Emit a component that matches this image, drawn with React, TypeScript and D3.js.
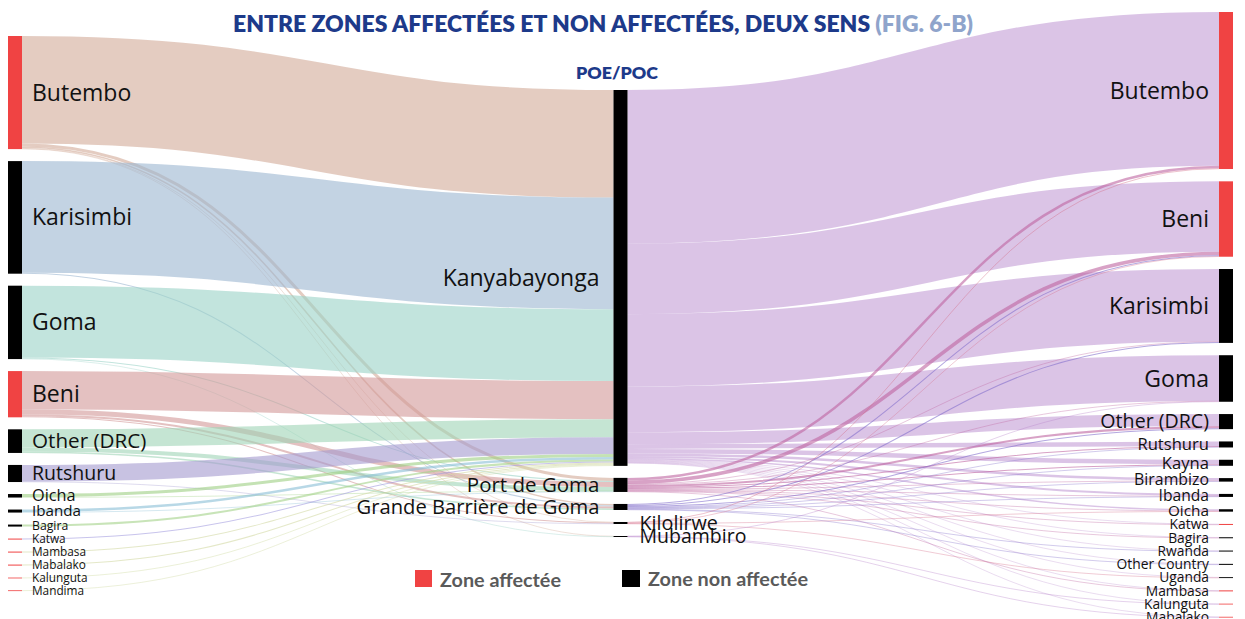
import { useMemo } from "react";
import * as d3 from "d3";

// columns of the sankey
const leftNodes = ["Butembo", "Karisimbi", "Goma", "Beni", "Other (DRC)", "Rutshuru", "Oicha", "Ibanda", "Bagira", "Katwa", "Mambasa", "Mabalako", "Kalunguta", "Mandima"];
const poeNodes = ["Kanyabayonga", "Port de Goma", "Grande Barrière de Goma", "Kilolirwe", "Mubambiro"];
const rightNodes = ["Butembo", "Beni", "Karisimbi", "Goma", "Other (DRC)", "Rutshuru", "Kayna", "Birambizo", "Ibanda", "Oicha", "Katwa", "Bagira", "Rwanda", "Other Country", "Uganda", "Mambasa", "Kalunguta", "Mabalako"];
const affected = ["Butembo", "Beni", "Katwa", "Mambasa", "Mabalako", "Kalunguta", "Mandima"];

// origine -> POE/POC (estimated from band widths)
const inflows: [string, string, number][] = [
  ["Butembo", "Kanyabayonga", 1070], ["Butembo", "Port de Goma", 30], ["Butembo", "Grande Barrière de Goma", 15], ["Butembo", "Kilolirwe", 5], ["Butembo", "Mubambiro", 5],
  ["Karisimbi", "Kanyabayonga", 1110], ["Karisimbi", "Grande Barrière de Goma", 10],
  ["Goma", "Kanyabayonga", 715], ["Goma", "Port de Goma", 10], ["Goma", "Mubambiro", 5],
  ["Beni", "Kanyabayonga", 380], ["Beni", "Port de Goma", 50], ["Beni", "Grande Barrière de Goma", 20], ["Beni", "Kilolirwe", 10],
  ["Other (DRC)", "Kanyabayonga", 180], ["Other (DRC)", "Port de Goma", 40], ["Other (DRC)", "Grande Barrière de Goma", 15],
  ["Rutshuru", "Kanyabayonga", 165], ["Rutshuru", "Kilolirwe", 5],
  ["Oicha", "Kanyabayonga", 30], ["Oicha", "Port de Goma", 5],
  ["Ibanda", "Kanyabayonga", 25], ["Ibanda", "Port de Goma", 5],
  ["Bagira", "Kanyabayonga", 20],
  ["Katwa", "Kanyabayonga", 10], ["Mambasa", "Kanyabayonga", 10], ["Mabalako", "Kanyabayonga", 10],
  ["Kalunguta", "Kanyabayonga", 7], ["Mandima", "Kanyabayonga", 7],
];

// POE/POC -> destination
const outflows: [string, string, number][] = [
  ["Kanyabayonga", "Butembo", 1530], ["Kanyabayonga", "Beni", 700], ["Kanyabayonga", "Karisimbi", 720], ["Kanyabayonga", "Goma", 455],
  ["Kanyabayonga", "Other (DRC)", 120], ["Kanyabayonga", "Rutshuru", 45], ["Kanyabayonga", "Kayna", 45], ["Kanyabayonga", "Birambizo", 25],
  ["Kanyabayonga", "Ibanda", 20], ["Kanyabayonga", "Oicha", 15], ["Kanyabayonga", "Katwa", 5], ["Kanyabayonga", "Bagira", 5],
  ["Kanyabayonga", "Rwanda", 5], ["Kanyabayonga", "Other Country", 5], ["Kanyabayonga", "Uganda", 5], ["Kanyabayonga", "Mambasa", 5],
  ["Kanyabayonga", "Kalunguta", 4], ["Kanyabayonga", "Mabalako", 4],
  ["Port de Goma", "Butembo", 25], ["Port de Goma", "Beni", 35], ["Port de Goma", "Karisimbi", 5], ["Port de Goma", "Goma", 5],
  ["Port de Goma", "Other (DRC)", 20], ["Port de Goma", "Rutshuru", 10], ["Port de Goma", "Kayna", 10], ["Port de Goma", "Birambizo", 5],
  ["Port de Goma", "Ibanda", 5], ["Port de Goma", "Oicha", 5], ["Port de Goma", "Katwa", 5], ["Port de Goma", "Bagira", 5], ["Port de Goma", "Mambasa", 5],
  ["Grande Barrière de Goma", "Beni", 10], ["Grande Barrière de Goma", "Karisimbi", 10], ["Grande Barrière de Goma", "Other (DRC)", 10],
  ["Grande Barrière de Goma", "Rutshuru", 5], ["Grande Barrière de Goma", "Kayna", 5], ["Grande Barrière de Goma", "Birambizo", 5],
  ["Grande Barrière de Goma", "Ibanda", 5], ["Grande Barrière de Goma", "Rwanda", 5], ["Grande Barrière de Goma", "Other Country", 5],
  ["Kilolirwe", "Butembo", 7], ["Kilolirwe", "Beni", 5], ["Kilolirwe", "Oicha", 4], ["Kilolirwe", "Uganda", 4],
  ["Mubambiro", "Goma", 3], ["Mubambiro", "Kalunguta", 4], ["Mubambiro", "Mabalako", 3],
];

const leftColors: Record<string, string> = {
  "Butembo": "#d2aa98", "Karisimbi": "#9bb6d0", "Goma": "#99d2c6", "Beni": "#d29898",
  "Other (DRC)": "#9ed4b6", "Rutshuru": "#a399cf", "Oicha": "#9dcf82", "Ibanda": "#89bed5",
  "Bagira": "#a3d289", "Katwa": "#a39ddf", "Mambasa": "#d2d9a3", "Mabalako": "#d2d9a3",
  "Kalunguta": "#cfdca3", "Mandima": "#d2dca8",
};
const poeColors: Record<string, string> = {
  "Kanyabayonga": "#c39dd5", "Port de Goma": "#be64a0", "Grande Barrière de Goma": "#826ecb",
  "Kilolirwe": "#d56e89", "Mubambiro": "#b782cb",
};

const width = 1245;
const height = 619;
const nodeW = 14;
const colPad = [12, 12, 12.3];
const colTop = [36, 90, 12];
const leftBottom = 591;

const fontLeft = d3.scaleLog().domain([1, 2, 3.5, 17, 46]).range([11.8, 12.2, 16.3, 19.5, 23]).clamp(true);
const fontMid = d3.scaleLog().domain([1, 14, 374]).range([19.5, 20.5, 23]).clamp(true);
const fontRight = d3.scaleLog().domain([1, 2.5, 6, 15, 46]).range([13.8, 15.4, 16.6, 19.6, 23]).clamp(true);

type N = { name: string; col: number; ins: L[]; outs: L[]; value: number; x0: number; x1: number; y0: number; y1: number };
type L = { source: N; target: N; value: number; width: number; y0: number; y1: number; color: string };

function layout() {
  const colX = d3.scaleLinear().domain([0, 2]).range([8, 1219]);
  const cols = [leftNodes, poeNodes, rightNodes].map((names, c) =>
    names.map(name => ({ name, col: c, ins: [], outs: [], value: 0, x0: colX(c), x1: colX(c) + nodeW, y0: 0, y1: 0 } as N))
  );
  const find = (c: number, name: string) => cols[c].find(n => n.name === name)!;
  const links: L[] = [];
  inflows.forEach(([s, t, v]) => links.push({ source: find(0, s), target: find(1, t), value: v, width: 0, y0: 0, y1: 0, color: leftColors[s] }));
  outflows.forEach(([s, t, v]) => links.push({ source: find(1, s), target: find(2, t), value: v, width: 0, y0: 0, y1: 0, color: poeColors[s] }));
  links.forEach(l => { l.source.outs.push(l); l.target.ins.push(l); });
  cols.flat().forEach(n => {
    n.value = Math.max(d3.sum(n.ins, l => l.value), d3.sum(n.outs, l => l.value));
  });
  const ky = (leftBottom - colTop[0] - (cols[0].length - 1) * colPad[0]) / d3.sum(cols[0], n => n.value);
  cols.forEach((col, c) => {
    let y = colTop[c];
    col.forEach(n => {
      n.y0 = y;
      n.y1 = y + n.value * ky;
      y = n.y1 + colPad[c];
    });
  });
  links.forEach(l => { l.width = l.value * ky; });
  cols.flat().forEach(n => {
    let y = n.y0;
    n.outs.sort((a, b) => a.target.y0 - b.target.y0).forEach(l => { l.y0 = y + l.width / 2; y += l.width; });
    y = n.y0;
    n.ins.sort((a, b) => a.source.y0 - b.source.y0).forEach(l => { l.y1 = y + l.width / 2; y += l.width; });
  });
  return { nodes: cols.flat(), links };
}

const App = () => {
  const { nodes, links } = useMemo(layout, []);
  const path = d3.linkHorizontal<L, [number, number]>()
    .source(d => [d.source.x1, d.y0])
    .target(d => [d.target.x0, d.y1]);

  return (
    <svg width={width} height={height} style={{ position: "absolute", left: 0, top: 0, background: "#fff" }}>
      <text x={233} y={32} textLength={740} lengthAdjust="spacingAndGlyphs"
        style={{ fontFamily: "Lato", fontWeight: 800, fontSize: 22 }}>
        <tspan fill="#1d3a8a">ENTRE ZONES AFFECTÉES ET NON AFFECTÉES, DEUX SENS </tspan>
        <tspan fill="#8fa4cb">(FIG. 6-B)</tspan>
      </text>
      <text x={617} y={79} textAnchor="middle" textLength={82} lengthAdjust="spacingAndGlyphs"
        fill="#1d3a8a" style={{ fontFamily: "Lato", fontWeight: 800, fontSize: 17 }}>POE/POC</text>

      <g fill="none">
        {links.map((l, i) => (
          <path key={i} d={path(l) || ""} stroke={l.color} strokeOpacity={0.6}
            strokeWidth={Math.max(l.width, 0.6)} />
        ))}
      </g>

      <g>
        {nodes.map((n, i) => (
          <rect key={i} x={n.x0} y={n.y0} width={nodeW} height={Math.max(n.y1 - n.y0, 0.8)}
            fill={affected.includes(n.name) ? "#f04343" : "#000"} />
        ))}
      </g>

      <g style={{ fontFamily: "Open Sans" }} fill="#111">
        {nodes.map((n, i) => {
          const h = Math.max(n.y1 - n.y0, 1);
          const yc = (n.y0 + n.y1) / 2;
          if (n.col === 0) {
            return <text key={i} x={n.x1 + 10} y={yc} dy="0.35em" fontSize={fontLeft(h)}>{n.name}</text>;
          }
          if (n.col === 1) {
            const right = h < 4;
            return <text key={i} x={right ? n.x1 + 12 : n.x0 - 14} y={yc} dy="0.35em"
              textAnchor={right ? "start" : "end"} fontSize={fontMid(h)}>{n.name}</text>;
          }
          return <text key={i} x={n.x0 - 10} y={yc} dy="0.35em" textAnchor="end" fontSize={fontRight(h)}>{n.name}</text>;
        })}
      </g>

      <g style={{ fontFamily: "Lato", fontWeight: 700, fontSize: 18 }} fill="#5a5a5a">
        <rect x={415} y={570} width={17} height={17} fill="#f04343" />
        <text x={440} y={587} textLength={121} lengthAdjust="spacingAndGlyphs">Zone affectée</text>
        <rect x={622} y={570} width={18} height={17} fill="#000" />
        <text x={648} y={586} textLength={160} lengthAdjust="spacingAndGlyphs">Zone non affectée</text>
      </g>
    </svg>
  );
};

export default App;
